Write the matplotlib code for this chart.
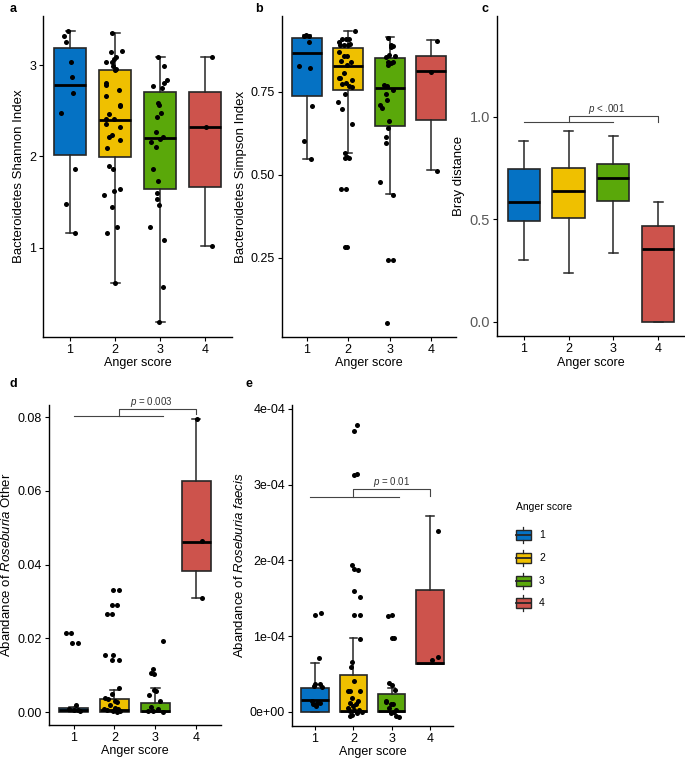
import matplotlib
matplotlib.use('Agg')
import matplotlib.pyplot as plt
from matplotlib.patches import Rectangle
from matplotlib.ticker import FuncFormatter

plt.rcParams['font.family'] = ['Liberation Sans', 'DejaVu Sans']
plt.rcParams['mathtext.fontset'] = 'custom'
plt.rcParams['mathtext.rm'] = 'Liberation Sans'
plt.rcParams['mathtext.it'] = 'Liberation Sans:italic'

groups = ['1', '2', '3', '4']
colors = ['#0572C4', '#EFC000', '#5AA80A', '#CD534C']

# ---- panel a: Shannon index ----
a_lo = [1.16, 0.61, 0.18, 1.02]
a_q1 = [2.01, 1.99, 1.64, 1.67]
a_med = [2.78, 2.40, 2.20, 2.32]
a_q3 = [3.19, 2.95, 2.71, 2.71]
a_hi = [3.38, 3.35, 3.09, 3.09]
a_pts = [
    [3.38, 3.32, 3.25, 3.04, 2.87, 2.69, 2.48, 1.86, 1.48, 1.16],
    [3.35, 3.15, 3.16, 3.04, 3.04, 3.07, 3.09, 2.99, 2.95, 2.96, 2.80, 2.78,
     2.73, 2.66, 2.56, 2.55, 2.46, 2.41, 2.41, 2.36, 2.32, 2.24, 2.21, 2.18,
     2.09, 1.89, 1.86, 1.58, 1.62, 1.64, 1.45, 1.23, 1.16, 0.61],
    [3.09, 2.99, 2.84, 2.80, 2.75, 2.77, 2.59, 2.56, 2.48, 2.43, 2.21, 2.19,
     2.16, 2.10, 2.27, 1.86, 1.73, 1.60, 1.53, 1.47, 1.23, 1.08, 0.57, 0.18],
    [3.09, 2.32, 1.02],
]
a_jit = [
    [-0.04, -0.13, -0.10, 0.03, 0.04, 0.07, -0.21, 0.10, -0.08, 0.10],
    [-0.06, -0.10, 0.16, -0.19, -0.07, -0.02, 0.03, -0.04, 0.0, 0.03, -0.21, -0.19,
     0.08, -0.19, 0.12, 0.10, -0.13, -0.21, -0.02, -0.21, 0.10, -0.07, -0.14, 0.12,
     -0.17, -0.14, -0.04, -0.24, -0.03, 0.12, -0.06, 0.04, -0.17, 0.0],
    [-0.04, 0.08, 0.15, 0.09, 0.04, -0.15, -0.05, -0.02, 0.02, -0.06, 0.07, -0.01,
     -0.20, -0.10, -0.08, -0.16, -0.05, -0.07, -0.07, -0.03, -0.22, 0.08, 0.06, -0.02],
    [0.16, 0.02, 0.16],
]

# ---- panel b: Simpson index ----
b_lo = [0.547, 0.566, 0.441, 0.514]
b_q1 = [0.738, 0.755, 0.646, 0.664]
b_med = [0.866, 0.828, 0.760, 0.813]
b_q3 = [0.913, 0.881, 0.850, 0.858]
b_hi = [0.920, 0.932, 0.916, 0.905]
b_pts = [
    [0.92, 0.919, 0.918, 0.899, 0.826, 0.821, 0.707, 0.602, 0.546],
    [0.932, 0.908, 0.908, 0.908, 0.898, 0.894, 0.89, 0.89, 0.89, 0.87, 0.858, 0.858,
     0.843, 0.84, 0.83, 0.807, 0.792, 0.792, 0.785, 0.775, 0.772, 0.767, 0.763, 0.742,
     0.719, 0.697, 0.652, 0.566, 0.554, 0.549, 0.549, 0.458, 0.458, 0.282, 0.282],
    [0.913, 0.891, 0.886, 0.883, 0.861, 0.854, 0.858, 0.84, 0.837, 0.83, 0.838, 0.77,
     0.767, 0.755, 0.742, 0.725, 0.71, 0.70, 0.662, 0.639, 0.612, 0.594, 0.477, 0.438,
     0.244, 0.244, 0.054],
    [0.902, 0.81, 0.512],
]
b_jit = [
    [-0.01, -0.07, 0.06, 0.05, -0.18, 0.08, 0.12, -0.07, 0.10],
    [0.15, -0.15, -0.05, 0.02, -0.22, 0.05, -0.19, -0.11, -0.01, -0.22, -0.11, -0.04,
     -0.18, 0.07, -0.02, -0.10, -0.23, -0.20, 0.08, -0.06, -0.15, 0.02, 0.09, -0.07,
     -0.26, -0.16, 0.09, -0.08, -0.03, -0.09, 0.02, -0.18, -0.05, -0.07, -0.02],
    [-0.03, 0.04, 0.08, 0.02, -0.02, -0.10, 0.13, -0.04, 0.02, -0.05, 0.07, -0.14,
     -0.06, 0.07, -0.10, -0.07, -0.24, -0.18, -0.01, -0.04, -0.09, -0.10, -0.24, 0.07,
     -0.03, 0.07, -0.06],
    [0.15, 0.0, 0.15],
]

# ---- panel c: Bray distance ----
c_lo = [0.301, 0.239, 0.337, 0.0]
c_q1 = [0.491, 0.507, 0.590, 0.0]
c_med = [0.582, 0.637, 0.699, 0.356]
c_q3 = [0.745, 0.751, 0.769, 0.468]
c_hi = [0.883, 0.930, 0.906, 0.582]

# ---- panel d: Roseburia Other ----
d_lo = [0.0, 0.0, 0.0, 0.0309]
d_q1 = [0.0, 0.0, 0.0, 0.0383]
d_med = [0.0007, 0.0006, 0.0002, 0.0461]
d_q3 = [0.0012, 0.0035, 0.0024, 0.0628]
d_hi = [0.0015, 0.0060, 0.0065, 0.0795]
d_pts = [
    [0.0214, 0.0214, 0.0187, 0.0187, 0.0018, 0.0008, 0.0005, 0.0003, 0.0006],
    [0.033, 0.033, 0.0291, 0.0291, 0.0266, 0.0266, 0.0155, 0.0155, 0.0142, 0.0142,
     0.0065, 0.005, 0.0039, 0.0036, 0.003, 0.0028, 0.0018, 0.0012, 0.0008, 0.0005,
     0.0003, 0.0002, 0.0009, 0.0001],
    [0.0192, 0.0118, 0.0105, 0.0104, 0.006, 0.0056, 0.0047, 0.003, 0.0015, 0.0008,
     0.0004, 0.0002, 0.0001],
    [0.0795, 0.0465, 0.0309],
]
d_jit = [
    [-0.18, -0.06, -0.04, 0.12, 0.06, -0.12, 0.02, 0.16, 0.10],
    [-0.03, 0.10, -0.06, 0.05, -0.18, -0.05, -0.22, -0.03, -0.05, 0.10,
     0.10, -0.06, -0.23, -0.17, 0.02, 0.06, -0.11, 0.01, 0.09, -0.19,
     -0.03, 0.13, -0.26, 0.05],
    [0.19, -0.06, -0.10, -0.04, -0.04, 0.02, -0.16, 0.12, -0.10, 0.06,
     -0.18, -0.06, 0.19],
    [0.02, 0.14, 0.14],
]

# ---- panel e: Roseburia faecis (values in units of 1e-4) ----
E4 = 1e-4
e_lo = [0.0, 0.0, 0.0, 0.63]
e_q1 = [0.0, 0.0, 0.0, 0.63]
e_med = [0.163, 0.013, 0.013, 0.64]
e_q3 = [0.32, 0.485, 0.24, 1.61]
e_hi = [0.64, 0.97, 0.32, 2.58]
e_pts = [
    [1.28, 1.30, 0.71, 0.37, 0.37, 0.34, 0.33, 0.15, 0.12, 0.12, 0.075, 0.10],
    [3.79, 3.71, 3.12, 3.14, 1.94, 1.88, 1.87, 1.59, 1.51, 1.28, 1.28, 0.96, 0.66,
     0.59, 0.41, 0.28, 0.28, 0.28, 0.18, 0.15, 0.12, 0.10, 0.08, 0.05, 0.03, 0.02,
     0.01, -0.02, -0.04, -0.05, 0.0],
    [1.27, 1.28, 0.97, 0.97, 0.38, 0.36, 0.29, 0.15, 0.13, 0.11, 0.10, 0.05, 0.02,
     -0.02, -0.05, -0.06, 0.0],
    [2.39, 0.73, 0.68],
]
e_jit = [
    [0.01, 0.16, 0.11, 0.0, 0.13, -0.03, 0.17, -0.09, 0.04, 0.13, 0.03, -0.04],
    [0.10, 0.02, 0.03, 0.09, -0.03, 0.02, 0.13, 0.02, 0.17, 0.02, 0.17, 0.17, -0.03,
     -0.07, 0.03, -0.15, -0.10, 0.17, -0.04, 0.13, -0.09, 0.07, 0.0, -0.13, 0.16, 0.02,
     -0.09, 0.09, -0.04, -0.10, 0.22],
    [-0.10, 0.01, 0.01, 0.05, -0.06, 0.01, 0.09, -0.16, -0.14, -0.02, 0.04, -0.08, 0.11,
     -0.02, 0.11, 0.18, 0.07],
    [0.21, 0.20, 0.04],
]


def boxes(ax, lo, q1, med, q3, hi, scale=1.0):
    stats = []
    for i in range(4):
        stats.append(dict(whislo=lo[i] * scale, q1=q1[i] * scale, med=med[i] * scale,
                          q3=q3[i] * scale, whishi=hi[i] * scale, fliers=[]))
    bp = ax.bxp(stats, positions=[1, 2, 3, 4], widths=0.72, capwidths=0.2,
                patch_artist=True, showfliers=False,
                boxprops=dict(edgecolor='#262626', linewidth=1.2),
                medianprops=dict(color='black', linewidth=2.0),
                whiskerprops=dict(color='#262626', linewidth=1.1),
                capprops=dict(color='#262626', linewidth=1.1))
    for patch, col in zip(bp['boxes'], colors):
        patch.set_facecolor(col)


def points(ax, pts, jit, scale=1.0):
    for i in range(4):
        xs = [i + 1 + j for j in jit[i]]
        ys = [v * scale for v in pts[i]]
        ax.scatter(xs, ys, s=13, color='black', zorder=4, linewidths=0)


def style(ax, ylabel, ylim, tickcolor='black', ysize=9):
    ax.set_xlim(0.4, 4.6)
    ax.set_ylim(*ylim)
    ax.set_xticks([1, 2, 3, 4])
    ax.set_xticklabels(groups)
    ax.set_xlabel('Anger score', fontsize=9, labelpad=1)
    ax.set_ylabel(ylabel, fontsize=9.5, labelpad=3)
    for s in ['top', 'right']:
        ax.spines[s].set_visible(False)
    for s in ['left', 'bottom']:
        ax.spines[s].set_linewidth(1.0)
    ax.tick_params(length=3, width=0.8, labelsize=9, pad=2)
    ax.tick_params(axis='y', labelcolor=tickcolor, labelsize=ysize)


def bracket(ax, x0, x1, yline, bx0, bx1, ytop, ydrop, label, tx):
    kw = dict(color='#444444', linewidth=0.8, clip_on=False)
    ax.plot([x0, x1], [yline, yline], **kw)
    ax.plot([bx0, bx0, bx1, bx1], [yline, ytop, ytop, ydrop], **kw)
    ax.text(tx, ytop, label, ha='center', va='bottom', fontsize=7, color='#333333',
            clip_on=False)


fig = plt.figure(figsize=(6.85, 7.59), dpi=100)

ax_a = fig.add_axes([0.0628, 0.556, 0.276, 0.423])
boxes(ax_a, a_lo, a_q1, a_med, a_q3, a_hi)
points(ax_a, a_pts, a_jit)
style(ax_a, 'Bacteroidetes Shannon Index', (0.02, 3.54))
ax_a.set_yticks([1, 2, 3])

ax_b = fig.add_axes([0.4117, 0.556, 0.254, 0.423])
boxes(ax_b, b_lo, b_q1, b_med, b_q3, b_hi)
points(ax_b, b_pts, b_jit)
style(ax_b, 'Bacteroidetes Simpson Index', (0.0106, 0.978))
ax_b.set_yticks([0.25, 0.50, 0.75])
ax_b.set_yticklabels(['0.25', '0.50', '0.75'])

ax_c = fig.add_axes([0.7255, 0.557, 0.2745, 0.422])
boxes(ax_c, c_lo, c_q1, c_med, c_q3, c_hi)
style(ax_c, 'Bray distance', (-0.07, 1.49), tickcolor='#595959', ysize=10.5)
ax_c.set_yticks([0.0, 0.5, 1.0])
ax_c.set_yticklabels(['0.0', '0.5', '1.0'])
bracket(ax_c, 1, 3, 0.971, 2, 4, 1.005, 0.974, '$\\mathit{p}$ < .001', 2.85)

ax_d = fig.add_axes([0.0715, 0.0448, 0.251, 0.4216])
boxes(ax_d, d_lo, d_q1, d_med, d_q3, d_hi)
points(ax_d, d_pts, d_jit)
style(ax_d, 'Abandance of $\\mathit{Roseburia}$ Other', (-0.0035, 0.0833))
ax_d.set_yticks([0.0, 0.02, 0.04, 0.06, 0.08])
ax_d.set_yticklabels(['0.00', '0.02', '0.04', '0.06', '0.08'])
bracket(ax_d, 1, 3.18, 0.0804, 2.1, 4, 0.0822, 0.0808, '$\\mathit{p}$ = 0.003', 2.9)

ax_e = fig.add_axes([0.4263, 0.0435, 0.235, 0.423])
boxes(ax_e, e_lo, e_q1, e_med, e_q3, e_hi, scale=E4)
points(ax_e, e_pts, e_jit, scale=E4)
style(ax_e, 'Abandance of $\\mathit{Roseburia\\ faecis}$', (-0.185 * E4, 4.05 * E4))
ax_e.set_yticks([0, 1e-4, 2e-4, 3e-4, 4e-4])
ax_e.yaxis.set_major_formatter(FuncFormatter(
    lambda v, p: '0e+00' if v == 0 else '%de-04' % round(v / 1e-4)))
bracket(ax_e, 0.87, 3.18, 2.84 * E4, 2.0, 4, 2.94 * E4, 2.855 * E4, '$\\mathit{p}$ = 0.01', 3.0)

# panel letters
for lab, x, y in [('a', 10, 9), ('b', 255, 9), ('c', 481, 9), ('d', 10, 384), ('e', 246, 384)]:
    fig.text(x / 685, 1 - y / 759, lab, fontsize=9, fontweight='bold', va='center')

# legend drawn by hand in pixel space
lg = fig.add_axes([0, 0, 1, 1])
lg.set_xlim(0, 685)
lg.set_ylim(759, 0)
lg.axis('off')
lg.text(516, 507, 'Anger score', fontsize=7.5, va='center')
for g, col, yc in zip(groups, colors, [535.3, 557.7, 580.7, 603]):
    lg.add_patch(Rectangle((516, yc - 5), 15, 10, facecolor=col, edgecolor='#262626', lw=1))
    lg.plot([516, 531], [yc, yc], color='#262626', lw=1.3)
    lg.plot([523.5, 523.5], [yc - 8, yc - 5], color='#262626', lw=0.9)
    lg.plot([523.5, 523.5], [yc + 5, yc + 8], color='#262626', lw=0.9)
    lg.text(539, yc, g, fontsize=7.5, va='center')

fig.savefig('out.png', dpi=100)
